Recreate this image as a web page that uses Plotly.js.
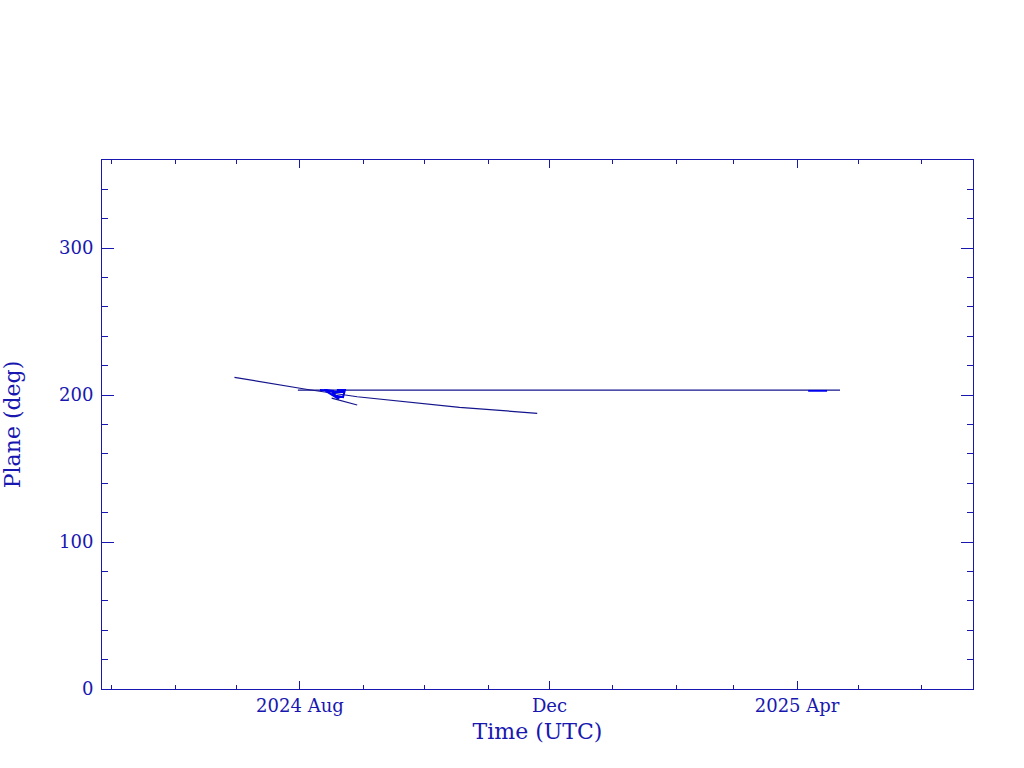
<!DOCTYPE html>
<html>
<head>
<meta charset="utf-8">
<script src="https://cdn.plot.ly/plotly-3.0.1.min.js"></script>
<style>html,body{margin:0;padding:0;background:#fff;}#chart{width:1024px;height:768px;}</style>
</head>
<body>
<div id="chart"></div>
<script>
// Main drifting curve
const curveDates = ["2024-06-30","2024-07-17","2024-08-04","2024-08-29","2024-09-08","2024-10-08","2024-10-18","2024-11-25"];
const curveVals  = [212.1, 208.2, 204.0, 198.9, 197.4, 193.1, 191.7, 187.6];
// Long flat segment
const flatDates = ["2024-07-31","2025-04-22"];
const flatVals  = [203.4, 203.4];
// Dense cluster near mid-August 2024
const clusterDates = ["2024-08-10 19:00","2024-08-17 17:00","2024-08-12 19:00","2024-08-20 02:00","2024-08-16 17:00","2024-08-23","2024-08-19 02:00","2024-08-23","2024-08-22 02:00","2024-08-16 12:00"];
const clusterVals  = [203.5, 202.8, 203.5, 197.3, 202.1, 202.1, 203.5, 203.5, 198.7, 200.1];
// Branch leaving the cluster
const branchDates = ["2024-08-16 12:00","2024-08-29"];
const branchVals  = [198.0, 193.3];
// Dense short segment in April 2025
const aprDates = ["2025-04-06 10:00","2025-04-15 16:00"];
const aprVals  = [202.9, 202.9];
// Tick labels
const xTickVals = ["2024-08-01","2024-12-01","2025-04-01"];
const xTickText = ["2024 Aug","Dec","2025 Apr"];

const ink = '#1818b0';
const lineCol = '#14148c';
const bright = '#0000f0';
const fam = 'DejaVu Serif, serif';

const traces = [
  {x: curveDates, y: curveVals, mode:'lines', line:{color:lineCol, width:1.2}},
  {x: flatDates, y: flatVals, mode:'lines', line:{color:lineCol, width:1.2}},
  {x: clusterDates, y: clusterVals, mode:'lines', line:{color:bright, width:2}},
  {x: branchDates, y: branchVals, mode:'lines', line:{color:lineCol, width:1.2}},
  {x: aprDates, y: aprVals, mode:'lines', line:{color:bright, width:1.8}}
];

const layout = {
  width:1024, height:768,
  margin:{l:102, r:51, t:160, b:79},
  paper_bgcolor:'#fff', plot_bgcolor:'#fff',
  showlegend:false,
  font:{family:fam, color:ink, size:18},
  xaxis:{
    type:'date',
    range:['2024-04-26 06:00','2025-06-26'],
    tickmode:'array', tickvals:xTickVals, ticktext:xTickText,
    ticks:'inside', ticklen:8, tickwidth:1, tickcolor:ink,
    minor:{tickmode:'linear', tick0:'2024-05-01', dtick:'M1', ticks:'inside', ticklen:4, tickcolor:ink, tickwidth:1, showgrid:false},
    showline:true, linecolor:ink, linewidth:1, mirror:'ticks',
    showgrid:false, zeroline:false,
    tickfont:{family:fam, size:18, color:ink},
    title:{text:'Time (UTC)', font:{family:fam, size:22, color:ink}, standoff:9}
  },
  yaxis:{
    range:[0,360],
    tickmode:'linear', tick0:0, dtick:100,
    ticks:'inside', ticklen:12, tickwidth:1, tickcolor:ink,
    minor:{tickmode:'linear', tick0:0, dtick:20, ticks:'inside', ticklen:6, tickcolor:ink, tickwidth:1, showgrid:false},
    showline:true, linecolor:ink, linewidth:1, mirror:'ticks',
    showgrid:false, zeroline:false,
    ticklabelstandoff:4,
    tickfont:{family:fam, size:18, color:ink},
    title:{text:'Plane (deg)', font:{family:fam, size:22, color:ink}, standoff:36}
  }
};

Plotly.newPlot('chart', traces, layout, {staticPlot:true, displayModeBar:false});
</script>
</body>
</html>
